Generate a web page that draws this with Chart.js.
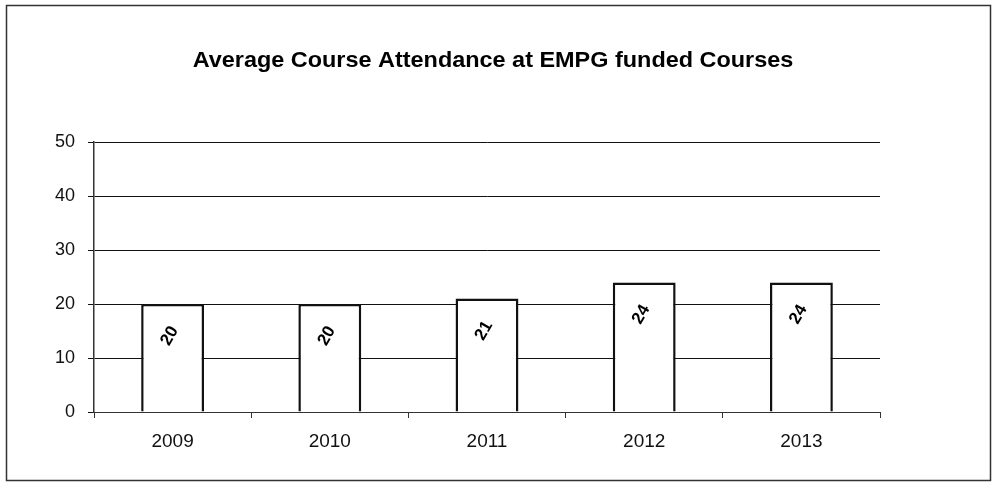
<!DOCTYPE html>
<html>
<head>
<meta charset="utf-8">
<script src="https://cdn.jsdelivr.net/npm/chart.js@4.4.0/dist/chart.umd.min.js"></script>
<style>
  html, body { margin: 0; padding: 0; background: #fff; }
  #wrap { width: 997px; height: 499px; }
</style>
</head>
<body>
<div id="wrap"><canvas id="myChart" width="997" height="499"></canvas></div>
<script>
var years = ["2009", "2010", "2011", "2012", "2013"]
var attendance = [20, 20, 21, 24, 24]
var yTicks = [0, 10, 20, 30, 40, 50]
var chartTitle = 'Average Course Attendance at EMPG funded Courses'

var fontFamily = '"Liberation Sans", Arial, sans-serif'

// outer frame and heading, centred on the whole frame rather than the plot
const framePlugin = {
    id: 'frame',
    beforeDraw(chart) {
        const ctx = chart.ctx
        ctx.save()
        ctx.fillStyle = '#fff'
        ctx.fillRect(0, 0, chart.width, chart.height)
        ctx.strokeStyle = '#333'
        ctx.lineWidth = 1.5
        ctx.strokeRect(6.5, 5.5, 984, 475)

        // heading is a bit wider than plain Arial bold, so stretch it
        ctx.fillStyle = '#000'
        ctx.font = 'bold 22px ' + fontFamily
        ctx.textAlign = 'center'
        ctx.textBaseline = 'alphabetic'
        ctx.translate(493, 67)
        ctx.scale(1.065, 1)
        ctx.fillText(chartTitle, 0, 0)
        ctx.restore()
    }
}

// value written inside each bar, tilted
const valuePlugin = {
    id: 'values',
    afterDatasetsDraw(chart) {
        const ctx = chart.ctx
        const meta = chart.getDatasetMeta(0)
        ctx.save()
        ctx.fillStyle = '#000'
        ctx.font = 'bold 17px ' + fontFamily
        ctx.textAlign = 'center'
        ctx.textBaseline = 'middle'
        meta.data.forEach((bar, i) => {
            ctx.save()
            ctx.translate(bar.x - 3, bar.y + 32)
            ctx.rotate(-Math.PI / 3)
            ctx.fillText(String(attendance[i]), 0, 0)
            ctx.restore()
        })
        ctx.restore()
    }
}

const config = {
    type: 'bar',
    data: {
        labels: years,
        datasets: [{
            data: attendance,
            backgroundColor: '#fff',
            borderColor: '#111',
            borderWidth: 2.5,
            barPercentage: 0.4,
            categoryPercentage: 1.0
        }]
    },
    options: {
        responsive: false,
        animation: false,
        layout: { padding: { left: 10, right: 117, top: 142, bottom: 47 } },
        plugins: {
            legend: { display: false },
            tooltip: { enabled: false },
            title: { display: false }
        },
        scales: {
            x: {
                grid: {
                    offset: true,
                    drawOnChartArea: false,
                    drawTicks: true,
                    tickLength: 6,
                    color: '#333'
                },
                border: { color: '#333', width: 1 },
                ticks: {
                    color: '#111',
                    padding: 12,
                    font: { family: fontFamily, size: 19 }
                },
                afterFit(scale) { scale.height = 40 }
            },
            y: {
                min: 0,
                max: 50,
                afterBuildTicks(scale) { scale.ticks = yTicks.map(v => ({ value: v })) },
                grid: {
                    color: '#111',
                    lineWidth: 1,
                    drawTicks: true,
                    tickLength: 6
                },
                border: { color: '#333', width: 1.5 },
                ticks: {
                    color: '#111',
                    padding: 13,
                    font: { family: fontFamily, size: 18 }
                },
                afterFit(scale) { scale.width = 84 }
            }
        }
    },
    plugins: [framePlugin, valuePlugin]
}

const myChart = new Chart(document.getElementById('myChart'), config)
</script>
</body>
</html>
